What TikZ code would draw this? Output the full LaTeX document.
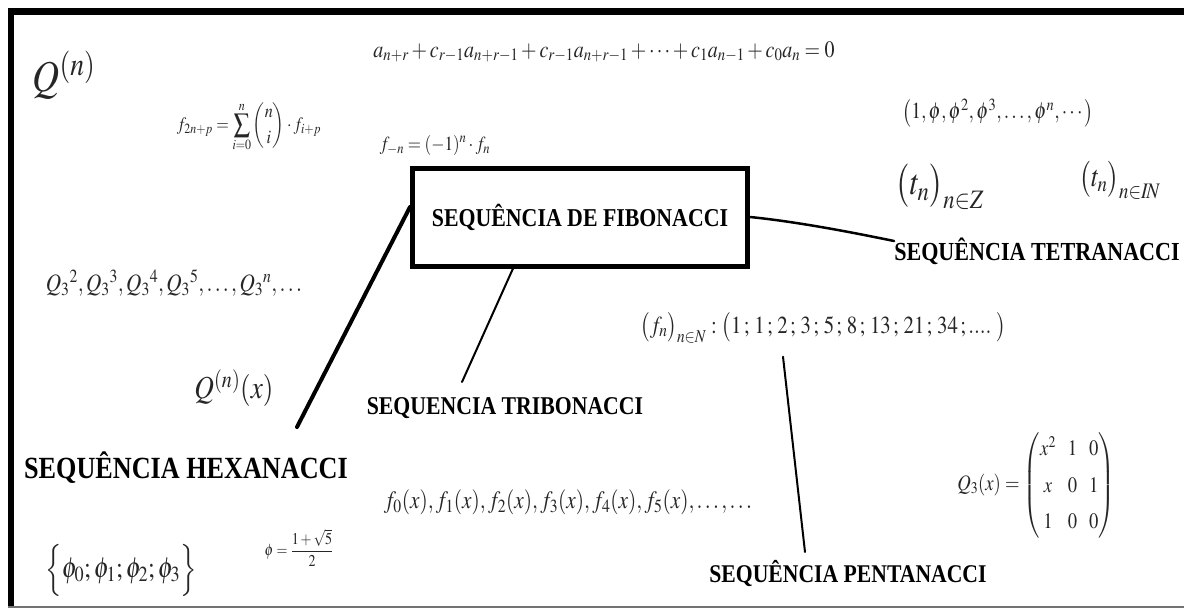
\documentclass[tikz,border=0pt]{standalone}
\usepackage{mathptmx}
\usepackage{amsmath}
\usepackage[no-math]{fontspec}
\setmainfont{Liberation Serif}
\newfontfamily\labfont{Liberation Serif}
\usepackage{graphicx}
\newcommand{\hsq}[1]{\scalebox{0.85}[1]{#1}}
\newcommand{\fs}[1]{\fontsize{#1}{#1}\selectfont}
\tikzset{
  lab/.style={inner sep=0pt, text=black},
  mth/.style={inner sep=0pt, text=black!85},
  conn/.style={draw=black, line width=2pt, line cap=round},
  thickconn/.style={draw=black, line width=4pt, line cap=round},
  fibbox/.style={draw=black, line width=5pt, minimum width=335pt, minimum height=98pt, inner sep=0pt, fill=white}
}
\begin{document}
\begin{tikzpicture}[x=1pt,y=-1pt]
\useasboundingbox (0,0) rectangle (1184,610);
\fill[white] (0,0) rectangle (1184,610);
% frame
\draw[line width=7pt] (8,12) -- (1184,12);
\draw[line width=6pt] (11,9) -- (11,607);
\draw[black!55, line width=1.5pt] (8,607) -- (1184,607);

% central box
\node[fibbox] (fib) at (580,217) {\hsq{\labfont\bfseries\fs{25.7}SEQUÊNCIA DE FIBONACCI}};

% labels
\node[lab] (hex) at (186,468) {\hsq{\labfont\bfseries\fs{30.8}SEQUÊNCIA HEXANACCI}};
\node[lab] (trib) at (505,408) {\hsq{\labfont\bfseries\fs{25.6}SEQUENCIA TRIBONACCI}};
\node[lab] (pent) at (848,573) {\hsq{\labfont\bfseries\fs{25.5}SEQUÊNCIA PENTANACCI}};
\node[lab] (tet) at (1037,251) {\hsq{\labfont\bfseries\fs{26}SEQUÊNCIA TETRANACCI}};

% formulas
\node[mth] (qn) at (64,75) {\hsq{\fs{44}$Q^{(n)}$}};
\node[mth] (f2n) at (249,127) {\hsq{\fs{19}$\displaystyle f_{2n+p}=\sum_{i=0}^{n}\binom{n}{i}\cdot f_{i+p}$}};
\node[mth] (rec) at (604,52) {\hsq{\fs{23.5}$a_{n+r}+c_{r-1}a_{n+r-1}+c_{r-1}a_{n+r-1}+\cdots+c_1a_{n-1}+c_0a_n=0$}};
\node[mth] (fneg) at (435,145) {\hsq{\fs{20}$f_{-n}=(-1)^n\cdot f_n$}};
\node[mth] (phis) at (998,113) {\hsq{\fs{23}$\left(1,\phi,\phi^2,\phi^3,\ldots,\phi^n,\cdots\right)$}};
\node[mth] (tz) at (940,187) {\hsq{\fs{36}$\bigl(t_n\bigr)_{n\in Z}$}};
\node[mth] (tn) at (1120,180) {\hsq{\fs{30}$\bigl(t_n\bigr)_{n\in I\!N}$}};
\node[mth] (q3) at (174,283) {\hsq{\fs{25}$Q_3{}^2,Q_3{}^3,Q_3{}^4,Q_3{}^5,\ldots,Q_3{}^n,\ldots$}};
\node[mth] (qnx) at (234,388) {\hsq{\fs{32}$Q^{(n)}(x)$}};
\node[mth] (phiset) at (121,570) {\hsq{\fs{29}$\Bigl\{\phi_0;\phi_1;\phi_2;\phi_3\Bigr\}$}};
\node[mth] (gold) at (299,548) {\hsq{\fs{16.5}$\phi=\dfrac{1+\sqrt{5}}{2}$}};
\node[mth] (fnseq) at (823,328) {\hsq{\fs{24.5}$\bigl(f_n\bigr)_{n\in N}:\bigl(1\,;\,1\,;\,2\,;\,3\,;\,5\,;\,8\,;\,13\,;\,21\,;\,34\,;....\;\bigr)$}};
\node[mth] (fx) at (568,502) {\hsq{\fs{25}$f_0(x),f_1(x),f_2(x),f_3(x),f_4(x),f_5(x),\ldots,\ldots$}};
\node[mth] (mat) at (1036,485) {\hsq{\fs{22}\renewcommand{\arraystretch}{1.65}\setlength{\arraycolsep}{7pt}$Q_3(x)=\begin{pmatrix}x^2&1&0\\x&0&1\\1&0&0\end{pmatrix}$}};

% connector free ends
\coordinate (hexend) at (297,427);
\coordinate (tribend) at (462,382);
\coordinate (pentend) at (805,552);

% connectors
\draw[thickconn] ([yshift=10pt]fib.west) -- (hexend);
\draw[conn] ([xshift=-67pt]fib.south) -- (tribend);
\draw[conn, line width=2.5pt] (fib.east) .. controls (800,222) and (860,234) .. ([yshift=10pt]tet.west);
\draw[conn] ([xshift=-40pt,yshift=-13pt]fnseq.south) -- (pentend);
\end{tikzpicture}
\end{document}
